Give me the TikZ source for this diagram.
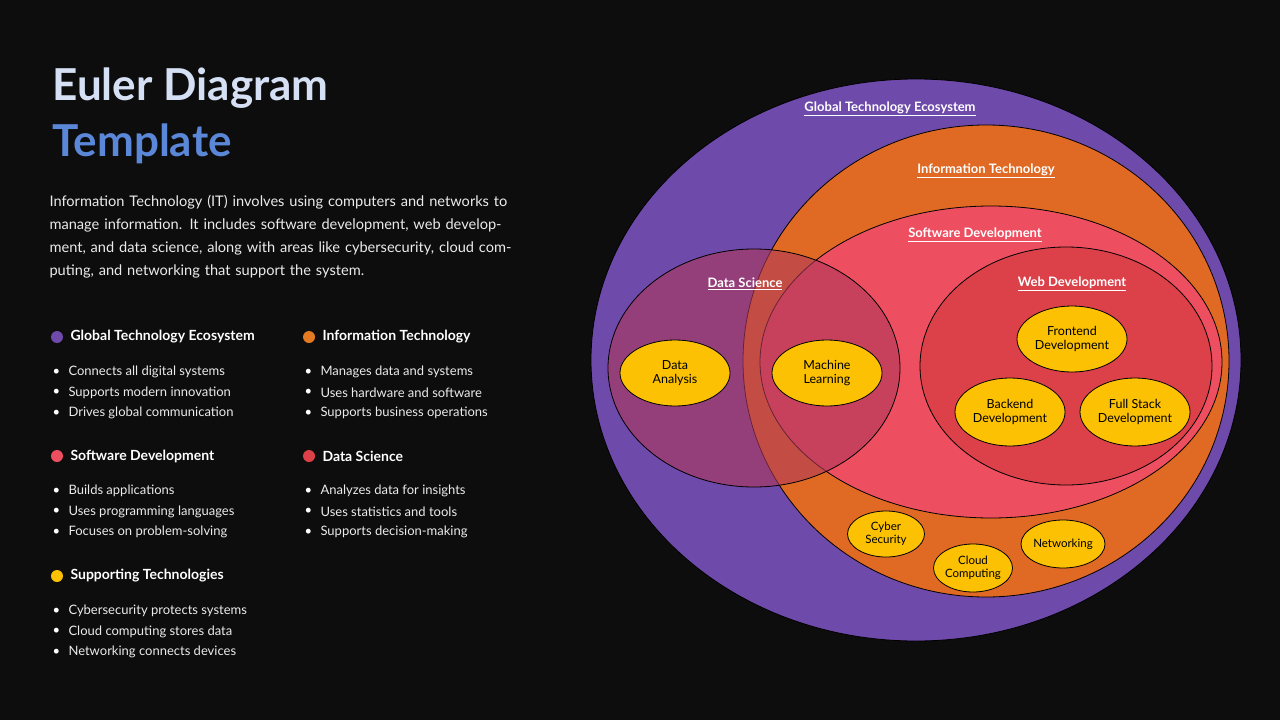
\documentclass[tikz,border=0pt]{standalone}
\usepackage{fontspec}
\setmainfont{Lato}
\usetikzlibrary{shapes.geometric}
\newcommand{\myul}[1]{\underline{#1}}
\begin{document}
\begin{tikzpicture}[x=1pt,y=-1pt,
  lab/.style={font=\fontsize{13}{13}\selectfont\bfseries, text=white},
  yel/.style={ellipse,draw=black,line width=0.8pt,fill=ycol,align=center,font=\fontsize{12.5}{14}\selectfont,inner sep=0pt},
  sm/.style={yel,font=\fontsize{11.5}{13}\selectfont},
  head/.style={anchor=west,font=\fontsize{14}{14}\selectfont\bfseries,text=white},
  item/.style={anchor=west,font=\fontsize{13}{13}\selectfont,text=white!92!black},
  bul/.style={anchor=west,font=\fontsize{13}{13}\selectfont,text=white}]
\definecolor{bg}{HTML}{0D0D0D}
\definecolor{pur}{HTML}{6E4AAA}
\definecolor{ora}{HTML}{E06A23}
\definecolor{pnk}{HTML}{EE4F60}
\definecolor{web}{HTML}{DC4048}
\definecolor{ycol}{HTML}{FBC102}
\definecolor{ds}{HTML}{B0385A}
\definecolor{t1}{HTML}{D6E0F5}
\definecolor{t2}{HTML}{5B87D8}
\fill[bg] (0,0) rectangle (1280,720);
\useasboundingbox (0,0) rectangle (1280,720);
% ellipses
\draw[fill=pur,draw=black,line width=0.8pt] (916,360) ellipse [x radius=325,y radius=281];
\draw[fill=ora,draw=black,line width=0.8pt] (986,361) ellipse [x radius=243,y radius=236];
\draw[fill=pnk,draw=black,line width=0.8pt] (991,362) ellipse [x radius=231,y radius=156];
\draw[fill=web,draw=black,line width=0.8pt] (1066,366) ellipse [x radius=146,y radius=119];
\draw[fill=ds,fill opacity=0.6,draw=black,line width=0.8pt] (754,368) ellipse [x radius=146,y radius=119];
% labels
\node[lab] (lg) at (890,109) {\myul{Global Technology Ecosystem}};
\node[lab] (li) at (986,171) {\myul{Information Technology}};
\node[lab] (ls) at (975,235) {\myul{Software Development}};
\node[lab] (lw) at (1072,284) {\myul{Web Development}};
\node[lab] (ld) at (745,284) {\myul{Data Science}};
% small ellipses
\node[yel,minimum width=110,minimum height=66] (da) at (675,373) {Data\\Analysis};
\node[yel,minimum width=110,minimum height=66] (ml) at (827,373) {Machine\\Learning};
\node[yel,minimum width=110,minimum height=66] (fe) at (1072,339) {Frontend\\Development};
\node[yel,minimum width=110,minimum height=68] (be) at (1010,412) {Backend\\Development};
\node[yel,minimum width=110,minimum height=68] (fs) at (1135,412) {Full Stack\\Development};
\node[sm,minimum width=77,minimum height=46] (cs) at (886,534) {Cyber\\Security};
\node[sm,minimum width=77,minimum height=48] (cc) at (973,568) {Cloud\\Computing};
\node[sm,minimum width=77,minimum height=48] (nw) at (1063,544) {Networking};
% title
\node[anchor=west,font=\fontsize{44}{44}\selectfont\bfseries,text=t1] (ti1) at (49,88) {Euler Diagram};
\node[anchor=west,font=\fontsize{44}{44}\selectfont\bfseries,text=t2] (ti2) at (49,144) {Template};
\node[anchor=north west,align=left,text width=480,font=\fontsize{14.6}{23}\selectfont,text=white!92!black] (desc) at (46,192)
 {Information Technology (IT) involves using computers and networks to manage information. It includes software development, web development, and data science, along with areas like cybersecurity, cloud computing, and networking that support the system.};
% legend
\newcommand{\legblock}[6]{%
 \fill[#4] (#1+6,#2) circle (6);
 \node[head] at (#1+16,#2) {#3};
 \node[bul] at (#1-2,#2+35) {\textbullet}; \node[item] at (#1+14,#2+35) {#5};
 \node[bul] at (#1-2,#2+55.5) {\textbullet}; \node[item] at (#1+14,#2+55.5) {#6};}
\newcommand{\legthird}[3]{\node[bul] at (#1-2,#2+76) {\textbullet}; \node[item] at (#1+14,#2+76) {#3};}
\legblock{51}{337}{Global Technology Ecosystem}{pur}{Connects all digital systems}{Supports modern innovation}
\legthird{51}{337}{Drives global communication}
\legblock{303}{337}{Information Technology}{ora!90!yellow}{Manages data and systems}{Uses hardware and software}
\legthird{303}{337}{Supports business operations}
\legblock{51}{456}{Software Development}{pnk}{Builds applications}{Uses programming languages}
\legthird{51}{456}{Focuses on problem-solving}
\legblock{303}{456}{Data Science}{web}{Analyzes data for insights}{Uses statistics and tools}
\legthird{303}{456}{Supports decision-making}
\legblock{51}{576}{Supporting Technologies}{ycol}{Cybersecurity protects systems}{Cloud computing stores data}
\legthird{51}{576}{Networking connects devices}
\end{tikzpicture}
\end{document}
